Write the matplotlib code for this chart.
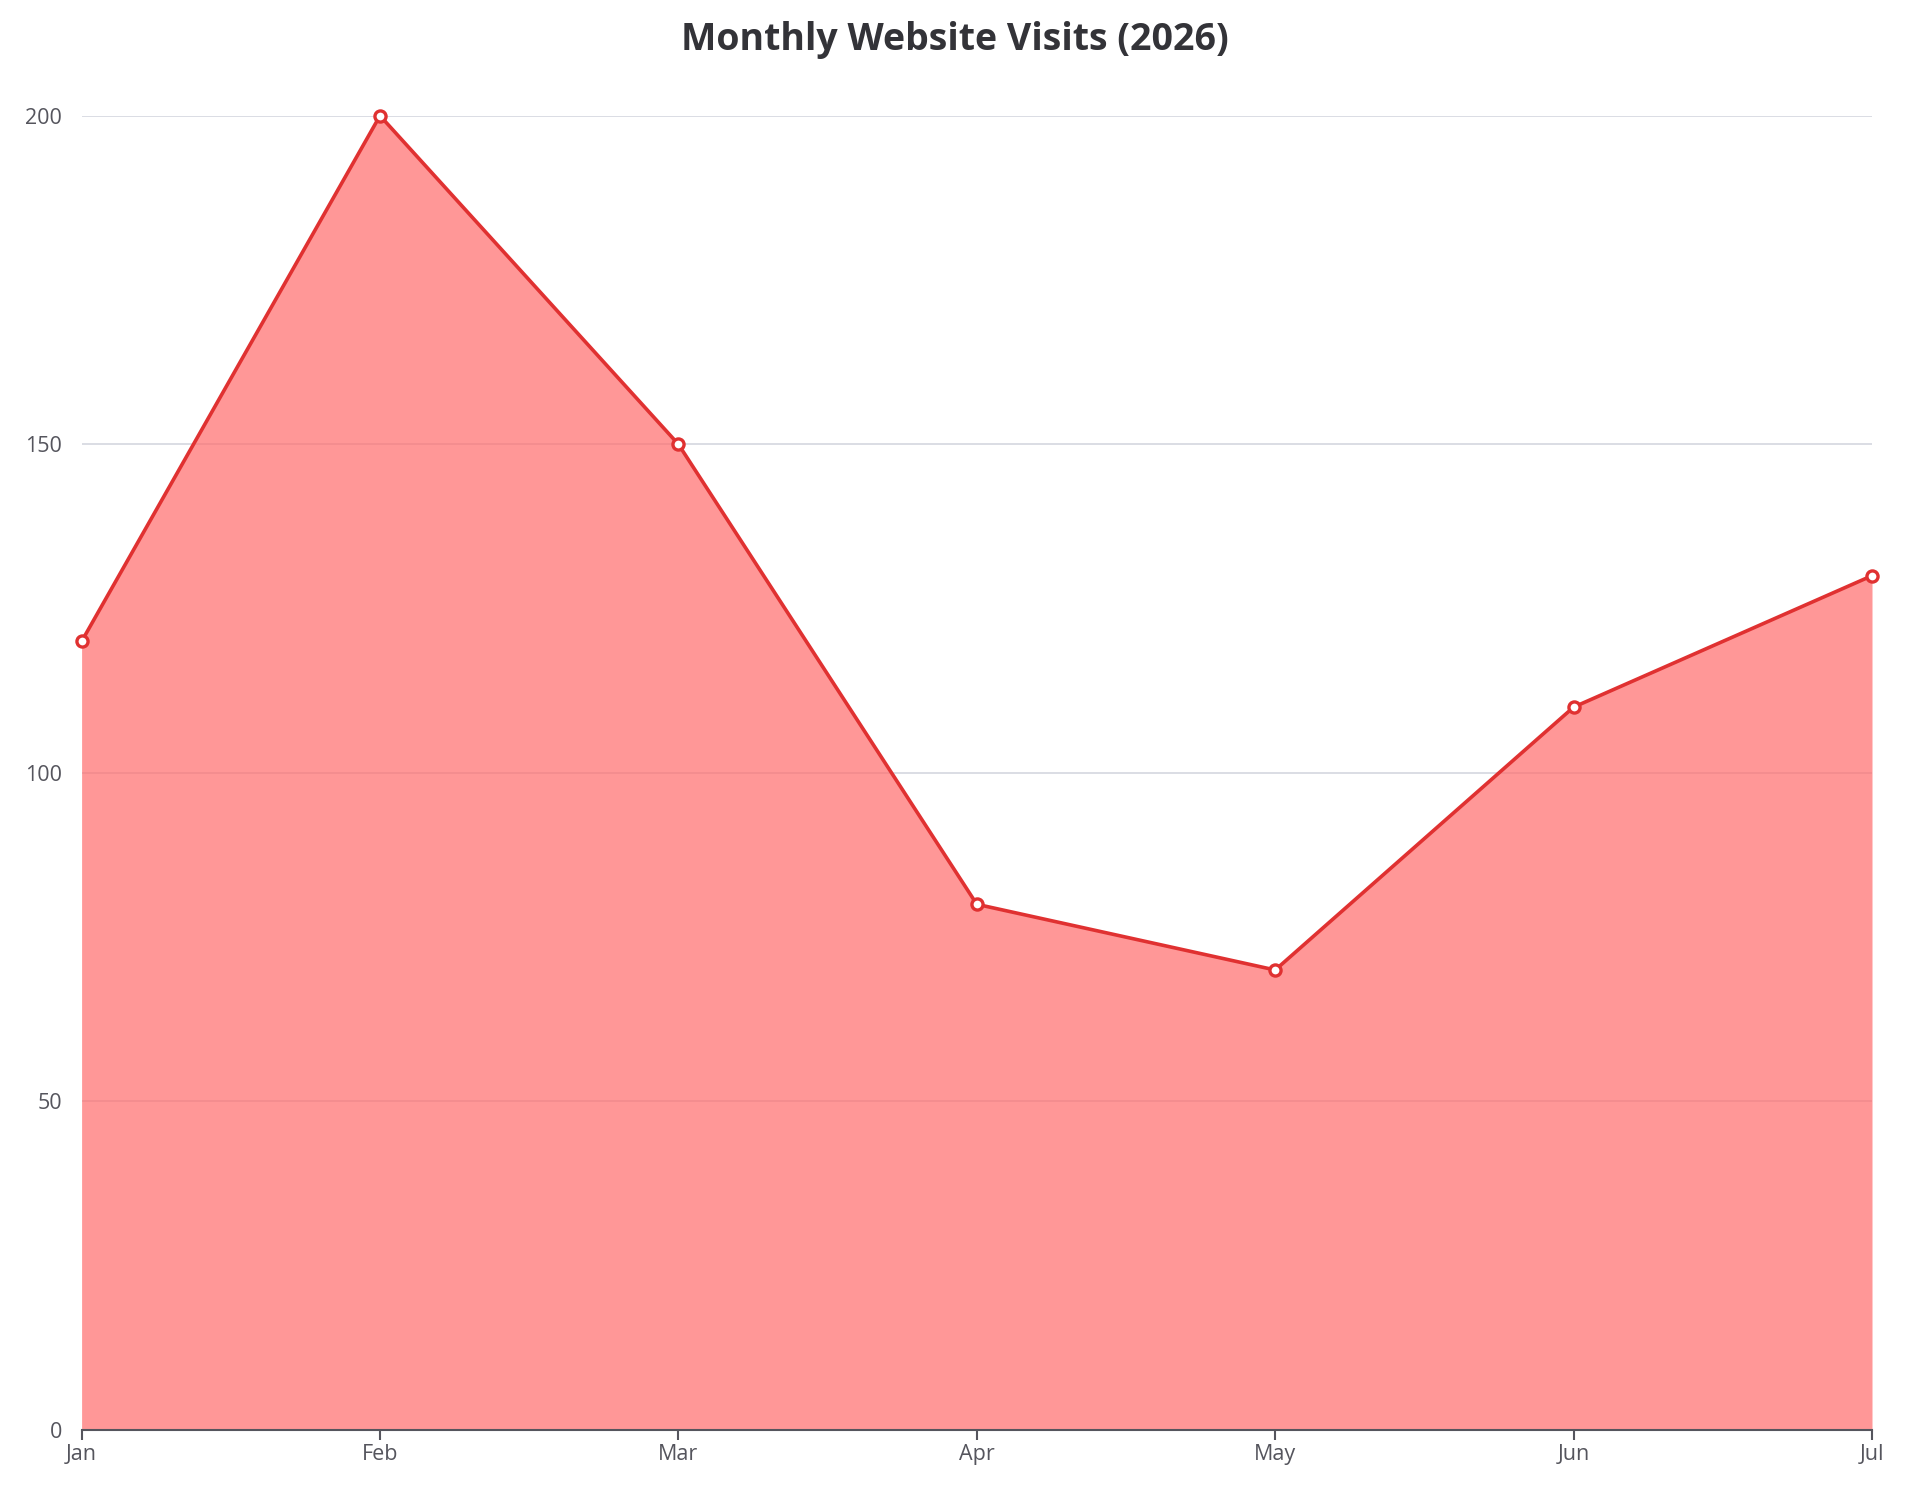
import matplotlib
matplotlib.use("Agg")
import matplotlib.pyplot as plt

months = ["Jan", "Feb", "Mar", "Apr", "May", "Jun", "Jul"]
visits = [120, 200, 150, 80, 70, 110, 130]
y_ticks = [0, 50, 100, 150, 200]

plt.rcParams["font.family"] = ["Open Sans", "DejaVu Sans"]

W, H, DPI = 1910, 1495, 100
fig = plt.figure(figsize=(W / DPI, H / DPI), dpi=DPI)
ax = fig.add_axes([81.6 / W, 1 - 1430 / H, (1872 - 81.6) / W, (1430 - 115.7) / H])

x = list(range(len(months)))
ax.fill_between(x, visits, 0, color="#ff6b6b", alpha=0.7, lw=0, zorder=2)
ax.plot(x, visits, color="#e03131", lw=2.6, marker="o", markersize=8,
        markerfacecolor="white", markeredgecolor="#e03131", markeredgewidth=2.4,
        zorder=4, clip_on=False)

ax.set_xlim(0, len(months) - 1)
ax.set_ylim(0, 200)
ax.set_xticks(x)
ax.set_xticklabels(months)
ax.set_yticks(y_ticks)
ax.grid(axis="y", color="#d8dae2", lw=1.3, zorder=1)
ax.set_axisbelow(True)
for s in ("top", "right", "left"):
    ax.spines[s].set_visible(False)
ax.spines["bottom"].set_color("#55555d")
ax.spines["bottom"].set_linewidth(1.5)
ax.spines["bottom"].set_zorder(5)
ax.tick_params(axis="x", length=7, width=1.5, color="#55555d", pad=3,
               labelsize=15.5, labelcolor="#55555d")
ax.tick_params(axis="y", length=0, pad=14, labelsize=15.5, labelcolor="#55555d")

fig.suptitle("Monthly Website Visits (2026)", y=1 - 40 / H, va="center",
             fontsize=27, fontweight="bold", color="#333338")

fig.savefig("out.png", dpi=DPI)
